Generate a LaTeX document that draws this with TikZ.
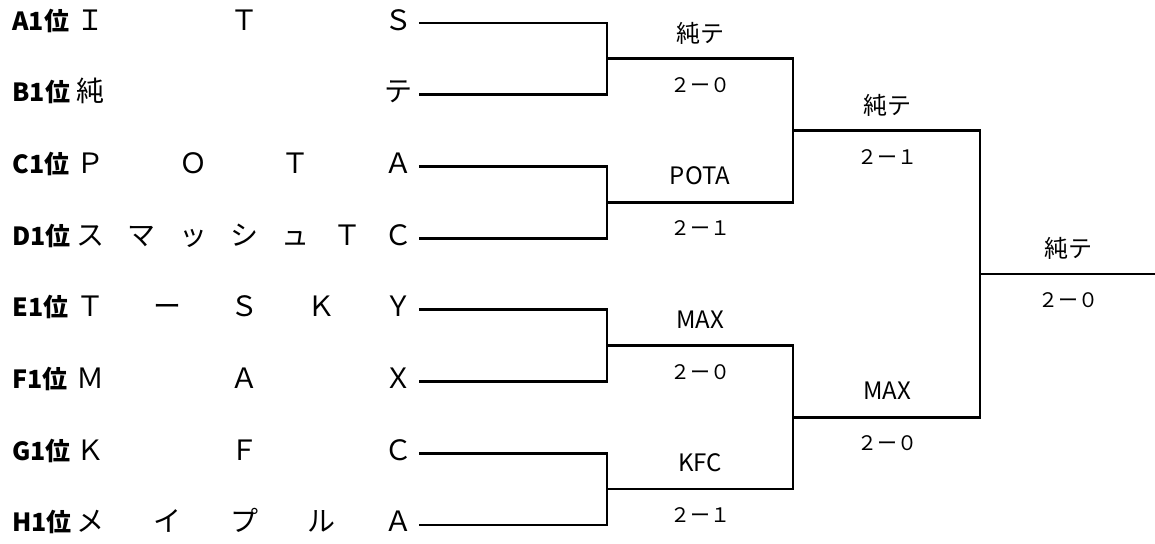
\documentclass[tikz,border=0pt]{standalone}
\usepackage{fontspec}
\usetikzlibrary{positioning}
\newfontfamily\jp{Noto Sans CJK JP}
\newcommand\spreadname[1]{\hbox to 168pt{#1}}

\begin{document}
\begin{tikzpicture}[x=0.5pt,y=-0.5pt,node distance=35.85pt,on grid,
  rank/.style={font=\jp\bfseries\fontsize{12.5pt}{12.5pt}\selectfont,anchor=west,inner sep=0pt,text height=0.85em,text depth=0.15em},
  team/.style={font=\jp\fontsize{14pt}{14pt}\selectfont,inner xsep=3pt,inner ysep=0pt,text height=0.85em,text depth=0.15em},
  win/.style={font=\jp\fontsize{12pt}{12pt}\selectfont,inner sep=0pt},
  score/.style={font=\jp\fontsize{10pt}{10pt}\selectfont,inner sep=0pt},
  bracket/.style={line width=1.4pt}]
\useasboundingbox (0,0) rectangle (1155,543);

% blocks
\node[rank] (rA) at (12,23)    {A1位};
\node[rank] (rB) at (12,94.7)  {B1位};
\node[rank] (rC) at (12,166.4) {C1位};
\node[rank] (rD) at (12,238.1) {D1位};
\node[rank] (rE) at (12,309.8) {E1位};
\node[rank] (rF) at (12,381.5) {F1位};
\node[rank] (rG) at (12,453.2) {G1位};
\node[rank] (rH) at (12,524.9) {H1位};

\node[team,anchor=west] (tA) at (70,23) {\spreadname{Ｉ\hfill Ｔ\hfill Ｓ}};
\node[team] (tB) [below=of tA] {\spreadname{純\hfill テ}};
\node[team] (tC) [below=of tB] {\spreadname{Ｐ\hfill Ｏ\hfill Ｔ\hfill Ａ}};
\node[team] (tD) [below=of tC] {\spreadname{ス\hfill マ\hfill ッ\hfill シ\hfill ュ\hfill Ｔ\hfill Ｃ}};
\node[team] (tE) [below=of tD] {\spreadname{Ｔ\hfill ー\hfill Ｓ\hfill Ｋ\hfill Ｙ}};
\node[team] (tF) [below=of tE] {\spreadname{Ｍ\hfill Ａ\hfill Ｘ}};
\node[team] (tG) [below=of tF] {\spreadname{Ｋ\hfill Ｆ\hfill Ｃ}};
\node[team] (tH) [below=of tG] {\spreadname{メ\hfill イ\hfill プ\hfill ル\hfill Ａ}};

% bracket points
\coordinate (q1) at (607,58.85);
\coordinate (q2) at (607,202.25);
\coordinate (q3) at (607,345.65);
\coordinate (q4) at (607,489.05);
\coordinate (s1) at (793,130.55);
\coordinate (s2) at (793,417.35);
\coordinate (f)  at (980,273.95);
\coordinate (goal) at (1155,273.95);

\draw[bracket] (tA.east) -| (q1) |- (tB.east);
\draw[bracket] (tC.east) -| (q2) |- (tD.east);
\draw[bracket] (tE.east) -| (q3) |- (tF.east);
\draw[bracket] (tG.east) -| (q4) |- (tH.east);
\draw[bracket] (q1) -| (s1) |- (q2);
\draw[bracket] (q3) -| (s2) |- (q4);
\draw[bracket] (s1) -| (f) |- (s2);
\draw[bracket] (f) -- (goal);

% results
\node[win]   (w1) at (700,33)  {純テ};
\node[score] (p1) at (700,85)  {２ー０};
\node[win]   (w2) at (700,176) {POTA};
\node[score] (p2) at (700,228) {２ー１};
\node[win]   (w3) at (700,320) {MAX};
\node[score] (p3) at (700,372) {２ー０};
\node[win]   (w4) at (700,463) {KFC};
\node[score] (p4) at (700,515) {２ー１};
\node[win]   (w5) at (887,105) {純テ};
\node[score] (p5) at (887,157) {２ー１};
\node[win]   (w6) at (887,391) {MAX};
\node[score] (p6) at (887,443) {２ー０};
\node[win]   (w7) at (1068,248) {純テ};
\node[score] (p7) at (1068,300) {２ー０};
\end{tikzpicture}
\end{document}
